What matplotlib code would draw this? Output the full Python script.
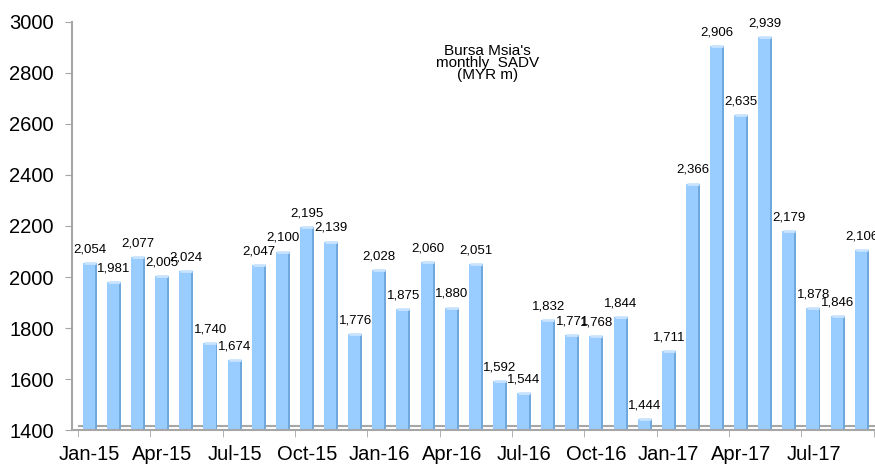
import numpy as np
import matplotlib.pyplot as plt

plt.rcParams['font.family'] = ['Liberation Sans', 'DejaVu Sans']

months = ["Jan-15", "Feb-15", "Mar-15", "Apr-15", "May-15", "Jun-15", "Jul-15", "Aug-15",
          "Sep-15", "Oct-15", "Nov-15", "Dec-15", "Jan-16", "Feb-16", "Mar-16", "Apr-16",
          "May-16", "Jun-16", "Jul-16", "Aug-16", "Sep-16", "Oct-16", "Nov-16", "Dec-16",
          "Jan-17", "Feb-17", "Mar-17", "Apr-17", "May-17", "Jun-17", "Jul-17", "Aug-17",
          "Sep-17"]
sadv = [2054, 1981, 2077, 2005, 2024, 1740, 1674, 2047, 2100, 2195, 2139, 1776,
        2028, 1875, 2060, 1880, 2051, 1592, 1544, 1832, 1771, 1768, 1844, 1444,
        1711, 2366, 2906, 2635, 2939, 2179, 1878, 1846, 2106]

x = np.arange(len(sadv))
fig = plt.figure(figsize=(8.75, 4.65), dpi=100)
ax = fig.add_axes([0.082, 0.075, 0.918, 0.878])

# 3D-ish floor
ax.plot([-0.45, len(sadv) - 0.35], [1418, 1418], color="#a6a6a6", lw=1.5, zorder=1)

w = 0.5
ax.bar(x - 0.04, [v - 1400 for v in sadv], bottom=1400, width=w,
       color="#99ccff", edgecolor="none", zorder=2)
ax.bar(x - 0.04 + w / 2 + 0.04, [v - 1400 for v in sadv], bottom=1400, width=0.08,
       color="#6fa8dc", edgecolor="none", zorder=2)
ax.scatter(x, sadv, marker="_", s=70, color="#c9e4ff", zorder=3, lw=2)

for xi, v in zip(x, sadv):
    ax.text(xi, v + 30, f"{v:,}", ha="center", va="bottom", fontsize=9.5)

ax.set_ylim(1400, 3000)
ax.set_yticks(range(1400, 3001, 200))
ax.set_xlim(-0.75, 32.55)
ax.set_xticks(x[::3])
ax.set_xticklabels(months[::3])
ax.set_xticks(np.arange(-0.5, len(sadv), 3), minor=True)
ax.tick_params(axis="x", which="major", length=0, labelsize=14.5, pad=11)
ax.tick_params(axis="x", which="minor", length=5, color="#a6a6a6")
ax.tick_params(axis="y", labelsize=14.5, length=5, color="#a6a6a6", pad=8)
for s in ["top", "right"]:
    ax.spines[s].set_visible(False)
for s in ["left", "bottom"]:
    ax.spines[s].set_color("#a6a6a6")
    ax.spines[s].set_linewidth(1.5)

ax.text(16.5, 2915, "Bursa Msia's\nmonthly  SADV\n(MYR m)", ha="center", va="top",
        fontsize=11, linespacing=0.85)

fig.savefig("out.png", dpi=100)
